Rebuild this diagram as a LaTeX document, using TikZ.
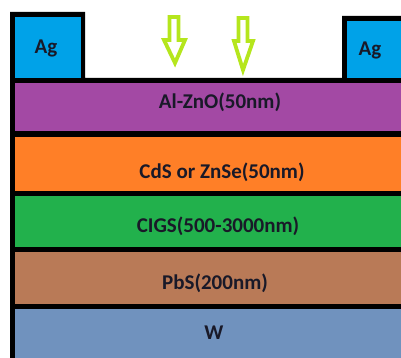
\documentclass[tikz,border=0pt]{standalone}
\usepackage{fontspec}
\setmainfont{Carlito}
\definecolor{agblue}{RGB}{0,162,232}
\definecolor{azopurple}{RGB}{163,73,164}
\definecolor{cdsorange}{RGB}{255,127,39}
\definecolor{cigsgreen}{RGB}{34,177,76}
\definecolor{pbsbrown}{RGB}{185,122,87}
\definecolor{wblue}{RGB}{112,146,190}
\definecolor{lightlime}{RGB}{181,230,29}
\definecolor{labelink}{RGB}{25,25,40}
\begin{document}
\begin{tikzpicture}[x=1pt, y=-1pt,
    layertext/.style={text=labelink, font=\fontsize{21}{24}\selectfont\bfseries, inner sep=0pt},
    lightarrow/.style={draw=lightlime, line width=3.8pt, fill=white, line join=miter}]
    \useasboundingbox (0, 0) rectangle (401, 358);

    % Black frame behind the stack
    \fill[black] (10, 12) -- (85, 12) -- (85, 78) -- (342, 78) -- (342, 16) -- (401, 16)
        -- (401, 358) -- (10, 358) -- cycle;

    % Contacts
    \fill[agblue] (15, 17) rectangle (81, 78);
    \fill[agblue] (347, 21) rectangle (401, 78);

    % Layers
    \fill[azopurple] (15, 83) rectangle (401, 131);
    \fill[cdsorange] (15, 137) rectangle (401, 191);
    \fill[cigsgreen] (15, 196) rectangle (401, 247);
    \fill[pbsbrown] (15, 252) rectangle (401, 304);
    \fill[wblue] (15, 309) rectangle (401, 358);

    % Labels
    \node[layertext] (agl) at (46, 48) {Ag};
    \node[layertext] (agr) at (370, 50) {Ag};
    \node[layertext] (azo) at (220, 102) {Al-ZnO(50nm)};
    \node[layertext] (cds) at (222, 172) {CdS or ZnSe(50nm)};
    \node[layertext] (cigs) at (218, 226) {CIGS(500-3000nm)};
    \node[layertext] (pbs) at (215, 283) {PbS(200nm)};
    \node[layertext] (w) at (214, 333) {W};

    % Incoming light
    \draw[lightarrow] (169.5, 17) -- (178.5, 17) -- (178.5, 40) -- (185, 40) -- (175, 63)
        -- (164, 40) -- (169.5, 40) -- cycle;
    \draw[lightarrow] (238.5, 18) -- (247.5, 18) -- (247.5, 41) -- (253, 41) -- (243, 70)
        -- (234, 41) -- (238.5, 41) -- cycle;
\end{tikzpicture}
\end{document}
